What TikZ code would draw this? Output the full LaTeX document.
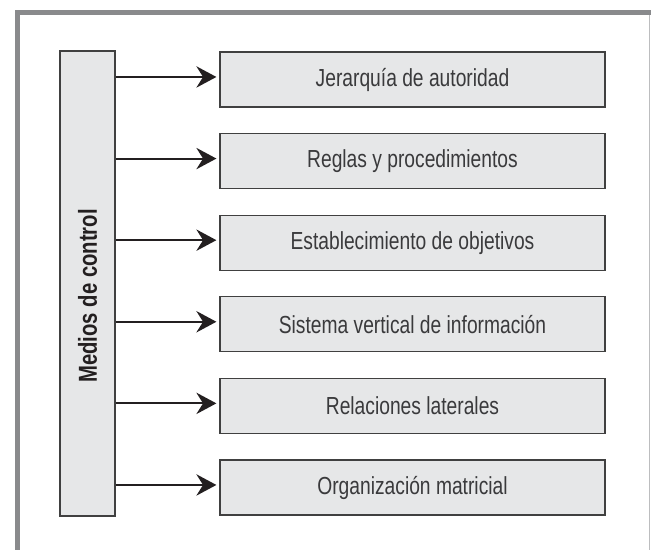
\documentclass[tikz,border=0pt]{standalone}
\usepackage{fontspec}
\setmainfont{Liberation Sans}[FakeStretch=0.78]
\usetikzlibrary{arrows.meta}
\definecolor{framegray}{HTML}{898A8C}
\definecolor{rightgray}{HTML}{BCBDBF}
\definecolor{boxfill}{HTML}{E6E7E8}
\definecolor{boxline}{HTML}{404040}
\definecolor{txt}{HTML}{3A3A3C}
\definecolor{ink}{HTML}{231F20}
\begin{document}
\begin{tikzpicture}[x=0.75pt,y=-0.75pt,
  itembox/.style={draw=boxline, fill=boxfill, line width=1pt, minimum width=385*0.75pt, minimum height=55*0.75pt, inner sep=0pt, font=\fontsize{18.5}{20}\selectfont, text=txt},
  mainbox/.style={draw=boxline, fill=boxfill, line width=1pt, minimum width=55*0.75pt, minimum height=465*0.75pt, inner sep=0pt},
  arr/.style={draw=ink, line width=1.6pt, -{Stealth[length=15pt, width=16pt, inset=5pt]}, shorten >=2.2pt}
]
\useasboundingbox (0,0) rectangle (651,550);
% frame
\draw[framegray, line width=3.75pt] (17.5,550) -- (17.5,12.5) -- (651,12.5);
\draw[rightgray, line width=1.1pt] (649.5,15) -- (649.5,550);
% main box
\node[mainbox] (m) at (87.5,283.5) {};
\node[rotate=90, font=\fontsize{19.5}{21}\selectfont\bfseries, text=ink] (mt) at (87.5,296) {Medios de control};
% items
\node[itembox] (b1) at (412.5,79.5) {Jerarquía de autoridad};
\node[itembox] (b2) at (412.5,161.1) {Reglas y procedimientos};
\node[itembox] (b3) at (412.5,242.7) {Establecimiento de objetivos};
\node[itembox] (b4) at (412.5,324.3) {Sistema vertical de información};
\node[itembox] (b5) at (412.5,405.9) {Relaciones laterales};
\node[itembox] (b6) at (412.5,487.5) {Organización matricial};
\foreach \b in {b1,b2,b3,b4,b5,b6}{
  \draw[arr] ([yshift=1.9pt]m.east |- \b.west) -- ([yshift=1.9pt]\b.west);
}
\end{tikzpicture}
\end{document}
